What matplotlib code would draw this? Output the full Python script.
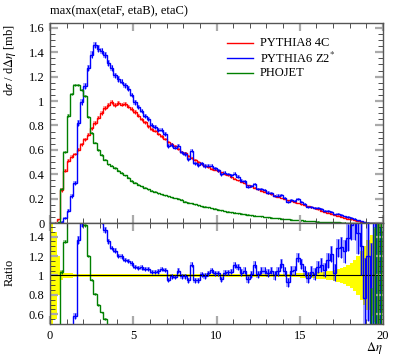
import numpy as np
from matplotlib import pyplot as plt
from matplotlib.ticker import MultipleLocator, FuncFormatter

plt.rcParams['font.family'] = ['Liberation Serif', 'DejaVu Serif']
plt.rcParams['mathtext.fontset'] = 'stix'

# binning of the histograms: 0..20 in steps of 0.2
edges = np.linspace(0, 20, 101)
centers = 0.5 * (edges[:-1] + edges[1:])

# PYTHIA8 4C (reference of the ratio)
pythia8 = [
    0.001, 0.003, 0.03, 0.27, 0.43, 0.51, 0.545, 0.565, 0.60, 0.645,
    0.685, 0.725, 0.775, 0.82, 0.865, 0.905, 0.94, 0.97, 0.99, 0.965,
    0.985, 0.97, 0.975, 0.955, 0.935, 0.91, 0.88, 0.85, 0.825, 0.795,
    0.77, 0.755, 0.73, 0.71, 0.69, 0.665, 0.645, 0.63, 0.605, 0.585,
    0.57, 0.55, 0.535, 0.515, 0.50, 0.485, 0.47, 0.46, 0.445, 0.438,
    0.425, 0.415, 0.40, 0.39, 0.375, 0.364, 0.35, 0.338, 0.325, 0.311,
    0.30, 0.288, 0.278, 0.265, 0.256, 0.245, 0.236, 0.224, 0.216, 0.205,
    0.197, 0.188, 0.181, 0.171, 0.164, 0.155, 0.147, 0.136, 0.129, 0.119,
    0.111, 0.102, 0.094, 0.084, 0.077, 0.068, 0.060, 0.052, 0.044, 0.036,
    0.029, 0.022, 0.016, 0.010, 0.006, 0.003, 0.0015, 0.0008, 0.0004, 0.0002]
# relative uncertainty of PYTHIA8 4C (yellow band)
pythia8_relerr = [
    0.6, 0.45, 0.2, 0.05, 0.03, 0.025, 0.025, 0.02, 0.02, 0.02,
    0.018, 0.018, 0.018, 0.018, 0.018, 0.018, 0.018, 0.018, 0.018, 0.018,
    0.015, 0.015, 0.015, 0.015, 0.015, 0.015, 0.015, 0.015, 0.015, 0.015,
    0.015, 0.015, 0.015, 0.015, 0.015, 0.015, 0.015, 0.015, 0.015, 0.015,
    0.015, 0.015, 0.015, 0.015, 0.015, 0.015, 0.015, 0.015, 0.015, 0.015,
    0.015, 0.015, 0.015, 0.015, 0.015, 0.015, 0.015, 0.015, 0.015, 0.015,
    0.015, 0.015, 0.015, 0.015, 0.016, 0.016, 0.016, 0.017, 0.017, 0.017,
    0.018, 0.019, 0.02, 0.02, 0.021, 0.022, 0.024, 0.026, 0.028, 0.03,
    0.033, 0.036, 0.04, 0.045, 0.05, 0.056, 0.064, 0.075, 0.09, 0.11,
    0.13, 0.16, 0.2, 0.25, 0.3, 0.36, 0.42, 0.48, 0.55, 0.6]

# PYTHIA6 Z2*
pythia6 = [
    0.0, 0.0, 0.002, 0.01, 0.04, 0.10, 0.22, 0.33, 0.82, 0.99,
    1.12, 1.27, 1.38, 1.46, 1.43, 1.41, 1.38, 1.31, 1.27, 1.21,
    1.18, 1.16, 1.13, 1.10, 1.05, 0.99, 0.95, 0.92, 0.88, 0.85,
    0.80, 0.785, 0.76, 0.76, 0.73, 0.632, 0.639, 0.619, 0.635, 0.579,
    0.565, 0.523, 0.594, 0.489, 0.475, 0.49, 0.468, 0.47, 0.468, 0.447,
    0.434, 0.398, 0.412, 0.402, 0.39, 0.404, 0.381, 0.348, 0.341, 0.299,
    0.303, 0.320, 0.281, 0.278, 0.269, 0.25, 0.248, 0.224, 0.225, 0.23,
    0.205, 0.175, 0.19, 0.18, 0.194, 0.174, 0.154, 0.133, 0.134, 0.121,
    0.121, 0.113, 0.099, 0.097, 0.094, 0.070, 0.077, 0.067, 0.055, 0.050,
    0.044, 0.034, 0.023, 0.013, 0.0046, 0.0036, 0.0005, 0.0016, 0.0, 0.0003]
pythia6_err = [
    0.0, 0.0, 0.002, 0.004, 0.008, 0.012, 0.016, 0.018, 0.024, 0.025,
    0.025, 0.026, 0.027, 0.028, 0.027, 0.027, 0.026, 0.025, 0.024, 0.023,
    0.022, 0.022, 0.021, 0.02, 0.02, 0.019, 0.018, 0.018, 0.017, 0.017,
    0.016, 0.016, 0.016, 0.015, 0.015, 0.015, 0.015, 0.014, 0.014, 0.014,
    0.014, 0.014, 0.013, 0.013, 0.013, 0.013, 0.013, 0.012, 0.012, 0.012,
    0.012, 0.012, 0.012, 0.011, 0.011, 0.011, 0.011, 0.011, 0.011, 0.011,
    0.01, 0.01, 0.01, 0.01, 0.01, 0.01, 0.0095, 0.0095, 0.0095, 0.009,
    0.009, 0.0085, 0.0085, 0.0085, 0.008, 0.008, 0.008, 0.0075, 0.0075, 0.0075,
    0.007, 0.007, 0.0068, 0.0065, 0.0062, 0.006, 0.0058, 0.0055, 0.0052, 0.005,
    0.0045, 0.004, 0.0035, 0.003, 0.0025, 0.002, 0.0015, 0.0015, 0.001, 0.001]

# PHOJET
phojet = [
    0.0, 0.0, 0.008, 0.28, 0.58, 0.88, 1.06, 1.13, 1.13, 1.09,
    1.04, 0.87, 0.74, 0.66, 0.60, 0.56, 0.52, 0.48, 0.47, 0.45,
    0.43, 0.41, 0.39, 0.37, 0.345, 0.33, 0.315, 0.30, 0.288, 0.275,
    0.265, 0.256, 0.245, 0.236, 0.228, 0.22, 0.212, 0.205, 0.198, 0.19,
    0.175, 0.167, 0.16, 0.153, 0.146, 0.139, 0.133, 0.128, 0.123, 0.118,
    0.108, 0.104, 0.099, 0.094, 0.089, 0.084, 0.08, 0.076, 0.072, 0.068,
    0.064, 0.061, 0.057, 0.054, 0.05, 0.047, 0.044, 0.041, 0.038, 0.035,
    0.033, 0.031, 0.028, 0.026, 0.024, 0.022, 0.019, 0.017, 0.015, 0.013,
    0.0115, 0.01, 0.0088, 0.0076, 0.0065, 0.0055, 0.0047, 0.004, 0.0033, 0.0027,
    0.0021, 0.0016, 0.0012, 0.0009, 0.0006, 0.0004, 0.0003, 0.0002, 0.0001, 0.0]
phojet_err = [
    0.0, 0.0, 0.002, 0.006, 0.008, 0.01, 0.01, 0.01, 0.01, 0.01,
    0.01, 0.009, 0.008, 0.008, 0.007, 0.007, 0.007, 0.006, 0.006, 0.006,
    0.006, 0.006, 0.006, 0.005, 0.005, 0.005, 0.005, 0.005, 0.005, 0.005,
    0.005, 0.005, 0.005, 0.004, 0.004, 0.004, 0.004, 0.004, 0.004, 0.004,
    0.004, 0.004, 0.004, 0.004, 0.004, 0.004, 0.004, 0.004, 0.004, 0.004,
    0.003, 0.003, 0.003, 0.003, 0.003, 0.003, 0.003, 0.003, 0.003, 0.003,
    0.003, 0.003, 0.003, 0.003, 0.003, 0.002, 0.002, 0.002, 0.002, 0.002,
    0.002, 0.002, 0.002, 0.002, 0.002, 0.002, 0.002, 0.002, 0.002, 0.002,
    0.001, 0.001, 0.001, 0.001, 0.001, 0.001, 0.001, 0.001, 0.001, 0.001,
    0.001, 0.001, 0.001, 0.001, 0.001, 0.001, 0.001, 0.001, 0.001, 0.001]

labels = ['PYTHIA8 4C', 'PYTHIA6 Z2*', 'PHOJET']
colors = ['red', 'blue', 'green']

p8 = np.array(pythia8)
p8_err = p8 * np.array(pythia8_relerr)
series = [(p8, p8_err), (np.array(pythia6), np.array(pythia6_err)),
          (np.array(phojet), np.array(phojet_err))]

W, H = 397, 358
fig = plt.figure(figsize=(W / 100, H / 100), dpi=100)
ax = fig.add_axes([50 / W, 1 - 223 / H, 333 / W, 200 / H])
rax = fig.add_axes([50 / W, 1 - 324 / H, 333 / W, 101 / H], sharex=ax)

for (y, e), c in zip(series, colors):
    ax.stairs(y + e, edges, baseline=y - e, fill=True, color=c, alpha=0.35, lw=0)
    ax.stairs(y, edges, color=c, lw=1.0)
    ax.errorbar(centers, y, yerr=e, fmt='none', ecolor=c, elinewidth=0.8, capsize=0)

# ratio panel
rel = np.array(pythia8_relerr)
rax.stairs(1 + rel, edges, baseline=1 - rel, fill=True, color='yellow', lw=0)
rax.axhline(1, color='black', lw=0.8)
for (y, e), c in list(zip(series, colors))[1:]:
    r = y / p8
    re = e / p8
    rax.stairs(r + re, edges, baseline=r - re, fill=True, color=c, alpha=0.35, lw=0)
    rax.stairs(r, edges, color=c, lw=1.0)
    rax.errorbar(centers, r, yerr=re, fmt='none', ecolor=c, elinewidth=0.8, capsize=0)

fmt = FuncFormatter(lambda v, p: '%g' % round(v, 6))
for a in (ax, rax):
    a.set_xlim(0, 20)
    a.xaxis.set_major_locator(MultipleLocator(5))
    a.xaxis.set_minor_locator(MultipleLocator(1))
    a.tick_params(which='both', direction='in', top=True, right=True, labelsize=9)
    a.tick_params(which='major', length=6, width=1.6, color='#aaaaaa', pad=4)
    a.tick_params(which='minor', length=3.5, width=0.6, color='#333333')
    a.yaxis.set_major_formatter(fmt)
    a.xaxis.set_major_formatter(fmt)
    for s in a.spines.values():
        s.set_color('#555555')
        s.set_linewidth(1.0)

ax.set_ylim(0, 1.64)
ax.yaxis.set_major_locator(MultipleLocator(0.2))
ax.yaxis.set_minor_locator(MultipleLocator(0.05))
ax.tick_params(labelbottom=False)

rax.set_ylim(0.5, 1.54)
rax.yaxis.set_major_locator(MultipleLocator(0.2))
rax.yaxis.set_minor_locator(MultipleLocator(0.05))

# legend
for i, (lab, c) in enumerate(zip(labels, colors)):
    yy = 1 - (43 + 15 * i) / H
    fig.add_artist(plt.Line2D([227 / W, 253 / W], [yy, yy], color=c, lw=1.0))
    fig.text(260 / W, yy, lab if i != 1 else 'PYTHIA6 Z2$^{*}$', va='center', ha='left', fontsize=9)

fig.text(50 / W, 1 - 11 / H, 'max(max(etaF, etaB), etaC)', va='center', ha='left', fontsize=9)
fig.text(10 / W, 1 - 24 / H, r'd$\sigma$ / d$\Delta\eta$ [mb]', rotation=90, va='top', ha='center', fontsize=9)
fig.text(10 / W, 1 - 272 / H, 'Ratio', rotation=90, va='center', ha='center', fontsize=9)
fig.text(383 / W, 1 - 348 / H, r'$\Delta\eta$', va='center', ha='right', fontsize=9)

fig.savefig('out.png', dpi=100)
